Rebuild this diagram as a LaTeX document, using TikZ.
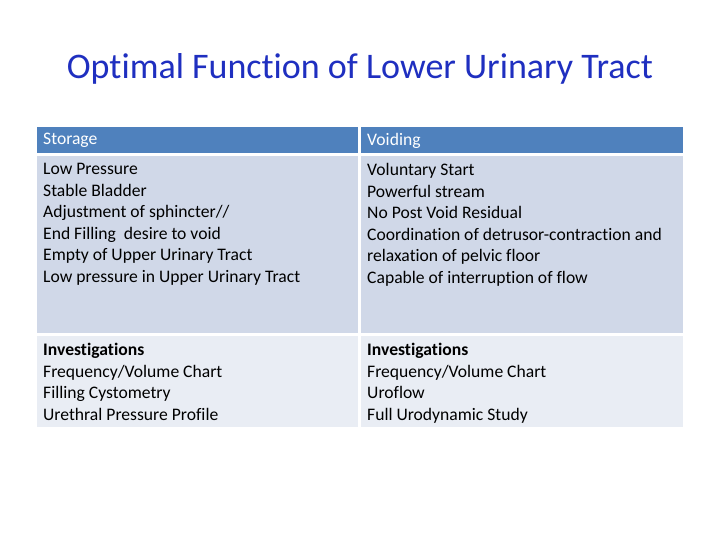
\documentclass[tikz,border=0pt]{standalone}
\usepackage{fontspec}
\setmainfont{Carlito}[Ligatures=NoCommon]
\definecolor{hdr}{HTML}{4F81BD}
\definecolor{rowa}{HTML}{D0D8E8}
\definecolor{rowb}{HTML}{E9EDF4}
\definecolor{ttl}{HTML}{1F2FC0}
\begin{document}
\begin{tikzpicture}[x=1pt,y=-1pt,
  cell/.style={anchor=north west,align=left,font=\fontsize{17.6}{21.6}\selectfont,inner sep=0pt}]
\useasboundingbox (0,0) rectangle (720,540);
\fill[white] (0,0) rectangle (720,540);
\node (title) at (360,69) {\fontsize{36}{40}\selectfont\color{ttl}Optimal Function of Lower Urinary Tract};
\fill[hdr] (37,127) rectangle (358,153);
\fill[hdr] (361,127) rectangle (683,153);
\fill[rowa] (37,156) rectangle (358,333);
\fill[rowa] (361,156) rectangle (683,333);
\fill[rowb] (37,336) rectangle (358,427);
\fill[rowb] (361,336) rectangle (683,427);
\node[cell,text=white] (h1) at (43,133) {Storage};
\node[cell,text=white] (h2) at (367,133) {Voiding};
\node[cell] (s) at (43,163) {Low Pressure\\Stable Bladder\\Adjustment of sphincter//\\End Filling\ \ desire to void\\Empty of Upper Urinary Tract\\Low pressure in Upper Urinary Tract};
\node[cell] (v) at (367,163) {Voluntary Start\\Powerful stream\\No Post Void Residual\\Coordination of detrusor-contraction and\\relaxation of pelvic floor\\Capable of interruption of flow};
\node[cell] (i1) at (43,343) {\textbf{Investigations}\\Frequency/Volume Chart\\Filling Cystometry\\Urethral Pressure Profile};
\node[cell] (i2) at (367,343) {\textbf{Investigations}\\Frequency/Volume Chart\\Uroflow\\Full Urodynamic Study};
\end{tikzpicture}
\end{document}
